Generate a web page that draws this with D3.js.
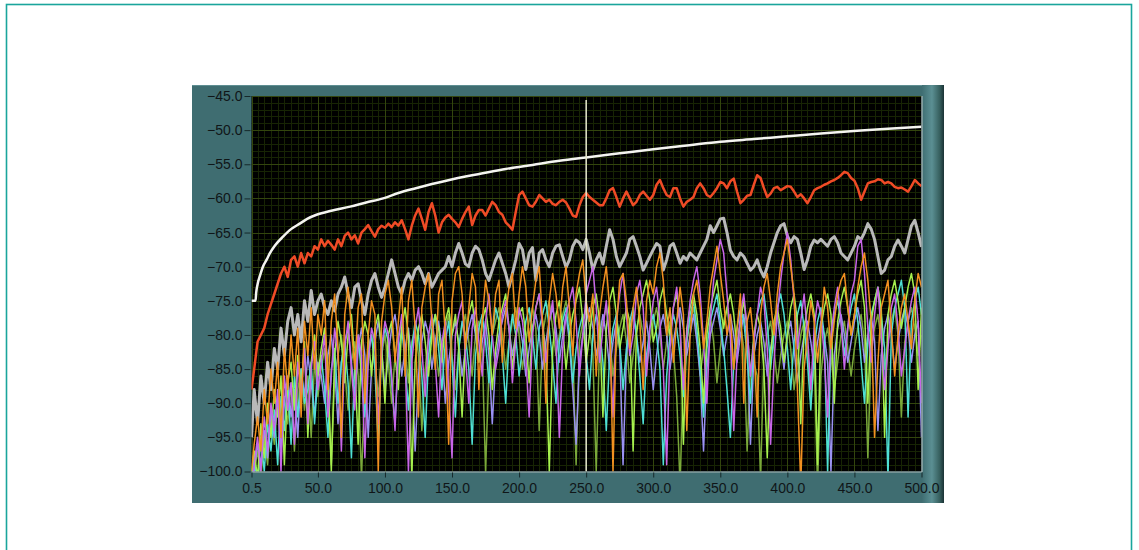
<!DOCTYPE html>
<html>
<head>
<meta charset="utf-8">
<script src="https://cdn.jsdelivr.net/npm/d3@7/dist/d3.min.js"></script>
<style>
  html, body { margin: 0; padding: 0; background: #ffffff; }
  svg { display: block; }
  .axis text { font-family: "Liberation Sans", Arial, sans-serif; font-size: 14px; fill: #101618; }
  .axis line { stroke: #16282a; }
  .axis path { display: none; }
</style>
</head>
<body>
<svg id="chart" width="1139" height="550"></svg>
<script>
// Spectrum bins (Hz) shared by the sampled traces
const freqs = [0.5,2.5,5,7.5,10,12.5,15,17.5,20,22.5,25,27.5,30,32.5,35,37.5,40,42.5,45,47.5,50,
  52.5,55,57.5,60,62.5,65,67.5,70,72.5,75,77.5,80,82.5,85,87.5,90,92.5,95,97.5,100,
  102.5,105,107.5,110,112.5,115,117.5,120,122.5,125,127.5,130,132.5,135,137.5,140,142.5,145,147.5,150,
  152.5,155,157.5,160,162.5,165,167.5,170,172.5,175,177.5,180,182.5,185,187.5,190,192.5,195,197.5,200,
  202.5,205,207.5,210,212.5,215,217.5,220,222.5,225,227.5,230,232.5,235,237.5,240,242.5,245,247.5,250,
  252.5,255,257.5,260,262.5,265,267.5,270,272.5,275,277.5,280,282.5,285,287.5,290,292.5,295,297.5,300,
  302.5,305,307.5,310,312.5,315,317.5,320,322.5,325,327.5,330,332.5,335,337.5,340,342.5,345,347.5,350,
  352.5,355,357.5,360,362.5,365,367.5,370,372.5,375,377.5,380,382.5,385,387.5,390,392.5,395,397.5,400,
  402.5,405,407.5,410,412.5,415,417.5,420,422.5,425,427.5,430,432.5,435,437.5,440,442.5,445,447.5,450,
  452.5,455,457.5,460,462.5,465,467.5,470,472.5,475,477.5,480,482.5,485,487.5,490,492.5,495,497.5,500];

// Limit curve (smooth), its own frequency points
const limitFreqs = [0.5,2,3.5,4,5,7,9,12,14,18,24,30,36.5,42,49,60,74,86,98.6,110,123,135,148,160,171,190,210,230,250,275,300,327,350,375,400,425,452,475,500];
const limitDb    = [-75,-75,-75,-73.8,-72.6,-71.2,-70.0,-68.9,-68.1,-66.9,-65.6,-64.5,-63.7,-63.0,-62.4,-61.8,-61.2,-60.6,-60.0,-59.2,-58.5,-57.9,-57.3,-56.8,-56.4,-55.7,-55.1,-54.5,-54.0,-53.4,-52.8,-52.2,-51.7,-51.3,-50.9,-50.5,-50.1,-49.8,-49.5];

// Average spectrum (red)
const avgDb = [-88,-85,-81,-80,-79,-77,-75.5,-74,-72.5,-71,-70,-71.5,-69,-68.5,-70,-68,-69.5,-68,-68.5,-67,-67.5,
  -66,-67,-66.2,-66.8,-67.5,-66,-67,-65.5,-65,-66,-65.4,-66.6,-65,-64.5,-63.9,-64.8,-65.6,-64.5,-64,-64.3,
  -63.7,-64.2,-63.5,-64,-63.2,-64.5,-66,-64,-62.5,-61.5,-63,-64.6,-62,-60.7,-62.5,-65,-63.5,-62.8,-62.4,-63,
  -63.5,-64.2,-63,-62,-61.2,-63.9,-62.5,-61.7,-61.7,-62.5,-61.5,-60.5,-61,-62,-62.4,-63.5,-64,-64.6,-62,-59.5,
  -59.0,-60,-61,-61.2,-60.5,-59.5,-60,-60.5,-60.2,-60.8,-61,-60.5,-60.2,-60.6,-61.5,-62.5,-62.7,-61,-59.8,-59.2,
  -59.8,-60.2,-60.6,-61,-61,-60,-58.8,-58.5,-59.8,-61.2,-60,-59,-60,-61,-60.5,-59.5,-59,-59.6,-60.2,-59.5,
  -58,-57.3,-58.5,-59.5,-59.8,-58.5,-58.5,-60,-61.2,-60.5,-60.2,-59.8,-58.5,-57.8,-58.5,-59.5,-59.8,-59.2,-58.5,-57.6,
  -57.8,-58.5,-57.5,-57.1,-59,-60.7,-60.2,-59.6,-59.5,-58,-56.6,-57,-58.5,-59.8,-59.3,-58.5,-58.3,-58.8,-58.5,-58.2,
  -58.3,-59,-59.8,-59.4,-60,-60.7,-59.8,-58.8,-58.5,-58.3,-58,-57.8,-57.5,-57.3,-57,-56.6,-56.1,-56.3,-57,-57.4,
  -58.5,-60.2,-59,-57.8,-57.6,-57.5,-57.2,-57.3,-57.8,-57.6,-57.8,-58.3,-58.5,-58.4,-58.7,-59,-58.2,-57.3,-57.8,-58.2];

// Peak-hold spectrum (gray)
const peakDb = [-95,-88,-93,-86,-90,-84,-88,-82,-85,-79,-83,-78,-76,-80,-77,-81,-75,-78,-73.5,-77,-75,
  -74,-76,-77,-75,-76.5,-74,-73,-71.5,-74,-76,-73,-72.5,-75,-77,-74,-72,-71,-73,-74.5,-73,
  -71,-69,-71,-73,-74,-72,-71,-72,-70.5,-70,-71,-72.5,-71,-73,-72,-71,-70.5,-70,-68.5,-70,
  -68,-66.6,-68,-69.6,-70,-68,-67,-67.5,-69,-71,-72,-70.5,-69,-68,-69.5,-71,-73,-71,-69,-66.6,
  -67.5,-70.4,-68,-67.2,-72,-68,-67.5,-69,-70,-68,-67,-66.8,-68.5,-70.1,-69,-67,-66.1,-66.5,-67.5,-66,
  -68,-70.5,-69,-68,-69.6,-67,-64.6,-66,-68.5,-70,-69,-68,-66,-65.6,-67,-68.5,-70.5,-69.5,-68.5,-67.5,
  -66.6,-67,-70.5,-69,-67,-66.6,-68,-69.5,-68.5,-69,-68,-68.5,-69,-68,-67,-66,-64,-65,-64,-63,
  -62.9,-65,-67.6,-68.5,-69,-68,-68.5,-69.5,-70.5,-70,-69,-70.5,-71.5,-70,-68,-66.5,-65,-64,-63.7,-65.5,
  -66.5,-65.6,-66,-68,-70.4,-69,-67,-66.1,-66.5,-66,-66.5,-67,-66,-65.6,-66.5,-68,-68.5,-69,-68,-67,
  -65.6,-66,-65,-63.7,-64.5,-66,-68.5,-71,-70.5,-69,-68.5,-67,-66.1,-67,-68,-66,-64,-63.2,-65,-67.1];

// Individual channel spectra
const chOrange = [-100,-96,-92,-97,-88,-93,-85,-90,-84,-95,-82,-88,-80,-86,-79,-92,-78,-83,-76,-85,-77,
  -80,-75,-88,-78,-74,-82,-95,-77,-73,-79,-85,-76,-74,-90,-80,-75,-77,-100,-78,-74,
  -72,-76,-84,-78,-73,-86,-75,-72,-79,-92,-76,-73,-71,-78,-85,-74,-72,-80,-96,-75,
  -71,-70,-74,-82,-76,-71,-73,-88,-78,-72,-75,-80,-74,-72,-84,-77,-73,-71,-79,-74,
  -70,-73,-81,-76,-72,-70,-78,-90,-75,-71,-74,-79,-73,-70,-76,-83,-74,-71,-69,-75,
  -78,-74,-86,-77,-73,-70,-76,-100,-79,-72,-71,-75,-82,-76,-73,-78,-88,-75,-72,-74,
  -70,-68,-72,-80,-76,-84,-78,-73,-77,-94,-80,-74,-72,-76,-82,-78,-73,-70,-67,-71,
  -75,-80,-77,-85,-79,-74,-90,-78,-76,-81,-92,-77,-73,-71,-75,-80,-74,-70,-68,-66,
  -70,-74,-88,-102,-85,-80,-75,-78,-84,-79,-73,-76,-82,-78,-74,-72,-71,-76,-80,-77,
  -73,-70,-68,-72,-78,-95,-84,-76,-74,-72,-79,-86,-80,-76,-74,-78,-82,-75,-71,-73];

const chViolet = [-102,-99,-95,-100,-92,-97,-90,-94,-88,-100,-86,-91,-87,-96,-84,-89,-82,-93,-85,-81,-88,
  -84,-80,-92,-86,-79,-83,-97,-82,-78,-85,-91,-80,-83,-98,-84,-79,-81,-93,-82,-78,
  -80,-86,-94,-81,-77,-83,-100,-84,-79,-76,-82,-89,-80,-77,-84,-92,-81,-78,-88,-98,
  -80,-77,-75,-83,-90,-79,-76,-81,-86,-78,-74,-80,-85,-82,-77,-75,-79,-87,-81,-76,
  -78,-83,-92,-80,-76,-74,-79,-84,-78,-75,-81,-95,-82,-77,-75,-73,-78,-86,-80,-74,
  -72,-70,-76,-84,-79,-75,-81,-92,-78,-74,-71,-77,-83,-80,-74,-72,-76,-86,-79,-75,
  -73,-78,-85,-99,-82,-76,-73,-79,-88,-80,-75,-72,-70,-74,-81,-90,-78,-72,-69,-66,
  -68,-74,-80,-94,-83,-77,-74,-79,-86,-81,-77,-73,-75,-82,-96,-84,-77,-72,-68,-65,
  -69,-75,-82,-78,-74,-80,-88,-79,-75,-77,-83,-92,-80,-76,-73,-78,-85,-79,-74,-72,
  -67,-66,-71,-79,-84,-77,-73,-80,-88,-82,-76,-74,-79,-86,-82,-78,-75,-73,-78,-90];

const chLime = [-100,-97,-101,-93,-98,-90,-95,-88,-92,-86,-99,-87,-84,-91,-83,-88,-81,-95,-84,-80,-86,
  -82,-79,-85,-100,-83,-78,-81,-87,-80,-77,-84,-96,-81,-78,-80,-86,-79,-77,-82,-90,
  -80,-78,-83,-88,-79,-76,-80,-101,-84,-79,-77,-81,-86,-80,-77,-79,-84,-78,-76,-80,
  -77,-82,-92,-81,-77,-75,-79,-84,-78,-76,-80,-88,-82,-78,-76,-74,-79,-85,-80,-77,
  -76,-80,-87,-79,-76,-74,-78,-83,-100,-82,-77,-75,-79,-85,-80,-77,-75,-73,-78,-84,
  -80,-76,-74,-78,-92,-79,-75,-73,-77,-82,-79,-76,-78,-97,-80,-76,-74,-72,-75,-81,
  -79,-75,-73,-77,-80,-76,-74,-78,-96,-79,-76,-74,-77,-82,-90,-80,-76,-74,-72,-76,
  -79,-76,-74,-77,-82,-78,-75,-79,-86,-80,-77,-79,-85,-98,-83,-78,-76,-79,-84,-80,
  -76,-74,-78,-93,-79,-76,-74,-77,-99,-79,-76,-74,-77,-90,-78,-75,-73,-76,-80,-77,
  -74,-72,-76,-90,-78,-75,-73,-76,-95,-77,-74,-72,-75,-79,-76,-73,-71,-74,-88,-76];

const chCyan = [-101,-98,-102,-95,-100,-93,-97,-91,-99,-89,-94,-87,-96,-86,-92,-85,-90,-88,-84,-93,-86,
  -83,-88,-95,-85,-82,-90,-84,-81,-87,-98,-84,-80,-86,-92,-83,-80,-85,-96,-82,-79,
  -81,-87,-93,-83,-79,-84,-91,-82,-78,-80,-86,-95,-83,-79,-77,-82,-88,-81,-78,-84,
  -92,-82,-78,-80,-85,-96,-83,-79,-77,-81,-87,-80,-76,-78,-83,-90,-81,-77,-80,-86,
  -82,-78,-76,-80,-85,-79,-77,-75,-79,-84,-90,-81,-78,-76,-80,-87,-82,-79,-77,-83,
  -88,-80,-77,-79,-84,-94,-83,-79,-77,-81,-88,-82,-78,-76,-80,-86,-93,-83,-79,-77,
  -80,-85,-99,-86,-80,-77,-79,-83,-89,-81,-77,-75,-79,-85,-92,-82,-78,-76,-74,-78,
  -82,-88,-95,-84,-79,-76,-78,-83,-90,-81,-77,-75,-74,-78,-85,-80,-76,-74,-77,-82,
  -88,-81,-77,-75,-79,-84,-91,-82,-78,-76,-80,-100,-81,-77,-75,-78,-83,-79,-76,-74,
  -78,-84,-90,-81,-77,-75,-73,-77,-82,-101,-80,-76,-74,-72,-76,-92,-78,-75,-73,-77];

const chOlive = [-103,-100,-97,-101,-95,-99,-92,-96,-90,-94,-89,-93,-87,-97,-88,-85,-91,-86,-95,-84,-89,
  -85,-82,-88,-99,-86,-83,-80,-85,-91,-84,-81,-86,-101,-87,-82,-80,-84,-89,-83,-80,
  -84,-90,-83,-80,-78,-82,-87,-81,-79,-83,-94,-85,-80,-78,-81,-86,-82,-79,-77,-83,
  -88,-82,-79,-77,-81,-86,-80,-78,-82,-100,-85,-80,-78,-76,-80,-85,-81,-78,-76,-80,
  -85,-81,-78,-76,-79,-94,-80,-77,-75,-79,-83,-80,-77,-75,-78,-82,-99,-81,-78,-76,
  -79,-83,-100,-81,-78,-76,-80,-86,-82,-79,-77,-81,-87,-83,-79,-77,-80,-85,-81,-78,
  -76,-80,-85,-81,-78,-82,-89,-102,-86,-81,-78,-76,-80,-86,-82,-79,-77,-81,-87,-82,
  -78,-76,-80,-85,-81,-78,-82,-97,-85,-84,-86,-101,-83,-80,-78,-82,-87,-83,-80,-78,
  -82,-88,-84,-80,-78,-82,-90,-84,-102,-86,-81,-79,-83,-88,-84,-80,-78,-82,-86,-82,
  -79,-77,-81,-98,-82,-79,-77,-81,-85,-81,-78,-76,-80,-92,-81,-78,-76,-79,-83,-80];

const chLavender = [-102,-100,-96,-99,-94,-98,-91,-95,-89,-97,-90,-86,-92,-88,-95,-85,-89,-83,-87,-92,-84,
  -86,-90,-83,-80,-85,-93,-84,-81,-79,-84,-89,-82,-79,-83,-95,-85,-81,-78,-82,-88,
  -83,-79,-77,-81,-86,-82,-79,-84,-97,-86,-81,-78,-80,-85,-81,-78,-82,-90,-84,-80,
  -78,-81,-86,-82,-79,-77,-80,-84,-81,-78,-83,-93,-84,-80,-78,-76,-79,-83,-80,-78,
  -81,-86,-82,-79,-77,-80,-85,-81,-78,-76,-79,-84,-80,-77,-81,-88,-96,-84,-80,-78,
  -76,-79,-83,-80,-77,-80,-85,-81,-78,-82,-99,-83,-79,-77,-80,-84,-81,-78,-82,-88,
  -83,-79,-77,-80,-85,-81,-78,-76,-79,-83,-80,-77,-81,-86,-97,-85,-80,-78,-76,-79,
  -83,-80,-77,-80,-84,-80,-77,-81,-96,-83,-80,-78,-81,-86,-82,-79,-77,-81,-85,-80,
  -78,-82,-87,-83,-80,-78,-81,-85,-81,-78,-80,-84,-100,-83,-79,-77,-80,-84,-81,-78,
  -76,-79,-84,-80,-77,-81,-94,-83,-79,-77,-80,-85,-81,-78,-76,-79,-84,-80,-78,-95];

// Axis ticks and the cursor position
const xTicks = [0.5, 50, 100, 150, 200, 250, 300, 350, 400, 450, 500];
const yTicks = [-45, -50, -55, -60, -65, -70, -75, -80, -85, -90, -95, -100];
const cursorFreq = 250;

const svg = d3.select("#chart");

// Page frame
svg.append("rect").attr("x", 6.5).attr("y", 4.5).attr("width", 1125).attr("height", 570)
  .attr("fill", "none").attr("stroke", "#1aa59c").attr("stroke-width", 1.6);

const defs = svg.append("defs");
const bevel = defs.append("linearGradient").attr("id", "bevel").attr("x1", "0").attr("x2", "1").attr("y1", "0").attr("y2", "0");
bevel.append("stop").attr("offset", "0").attr("stop-color", "#3f6e72");
bevel.append("stop").attr("offset", "0.45").attr("stop-color", "#5b8f93");
bevel.append("stop").attr("offset", "0.8").attr("stop-color", "#37605f");
bevel.append("stop").attr("offset", "1").attr("stop-color", "#1a3234");

// Graph panel
const panel = { x: 192, y: 85, w: 752, h: 418 };
svg.append("rect").attr("x", panel.x).attr("y", panel.y).attr("width", panel.w).attr("height", panel.h)
  .attr("fill", "#3f6d71");
svg.append("rect").attr("x", 922).attr("y", panel.y).attr("width", panel.x + panel.w - 922).attr("height", panel.h)
  .attr("fill", "url(#bevel)");
svg.append("line").attr("x1", panel.x).attr("x2", 922).attr("y1", panel.y + 0.5).attr("y2", panel.y + 0.5)
  .attr("stroke", "#5e8e92").attr("stroke-width", 1);

// Plot area
const plot = { left: 251.5, right: 921.5, top: 96, bottom: 471.5 };
const x = d3.scaleLinear().domain([0.5, 500]).range([plot.left, plot.right]);
const y = d3.scaleLinear().domain([-45, -100]).range([plot.top, plot.bottom]);

svg.append("rect").attr("x", plot.left).attr("y", plot.top)
  .attr("width", plot.right - plot.left).attr("height", plot.bottom - plot.top).attr("fill", "#000000");

defs.append("clipPath").attr("id", "plotClip").append("rect")
  .attr("x", plot.left).attr("y", plot.top)
  .attr("width", plot.right - plot.left).attr("height", plot.bottom - plot.top);

// Grid: minor every 5 Hz / 1 dB, major at the labelled ticks
const grid = svg.append("g").attr("clip-path", "url(#plotClip)");
const minorX = d3.range(5, 500, 5);
const minorY = d3.range(-46, -100, -1);
grid.selectAll(".mx").data(minorX).join("line")
  .attr("x1", d => Math.round(x(d)) + 0.5).attr("x2", d => Math.round(x(d)) + 0.5)
  .attr("y1", plot.top).attr("y2", plot.bottom).attr("stroke", "#172404").attr("stroke-width", 1);
grid.selectAll(".my").data(minorY).join("line")
  .attr("y1", d => Math.round(y(d)) + 0.5).attr("y2", d => Math.round(y(d)) + 0.5)
  .attr("x1", plot.left).attr("x2", plot.right).attr("stroke", "#172404").attr("stroke-width", 1);
grid.selectAll(".Mx").data(xTicks).join("line")
  .attr("x1", d => Math.round(x(d)) + 0.5).attr("x2", d => Math.round(x(d)) + 0.5)
  .attr("y1", plot.top).attr("y2", plot.bottom).attr("stroke", "#33450e").attr("stroke-width", 1);
grid.selectAll(".My").data(yTicks).join("line")
  .attr("y1", d => Math.round(y(d)) + 0.5).attr("y2", d => Math.round(y(d)) + 0.5)
  .attr("x1", plot.left).attr("x2", plot.right).attr("stroke", "#33450e").attr("stroke-width", 1);

// Traces
const traces = svg.append("g").attr("clip-path", "url(#plotClip)");
const line = d3.line().x(d => x(d[0])).y(d => y(d[1]));
const zipBins = vals => freqs.map((f, i) => [f, vals[i]]);

traces.append("path").datum(zipBins(peakDb)).attr("d", line)
  .attr("fill", "none").attr("stroke", "#b9b9b9").attr("stroke-width", 3).attr("stroke-linejoin", "round");

const channels = [
  { vals: chOlive, color: "#7aa83a" },
  { vals: chLavender, color: "#9a92f2" },
  { vals: chCyan, color: "#4fe0d4" },
  { vals: chLime, color: "#a6f04e" },
  { vals: chViolet, color: "#c866e8" },
  { vals: chOrange, color: "#f29020" }
];
channels.forEach(c => {
  traces.append("path").datum(zipBins(c.vals)).attr("d", line)
    .attr("fill", "none").attr("stroke", c.color).attr("stroke-width", 1.5).attr("stroke-linejoin", "round");
});

traces.append("path").datum(zipBins(avgDb)).attr("d", line)
  .attr("fill", "none").attr("stroke", "#f04b26").attr("stroke-width", 2.5).attr("stroke-linejoin", "round");

traces.append("path").datum(limitFreqs.map((f, i) => [f, limitDb[i]]))
  .attr("d", line.curve(d3.curveMonotoneX))
  .attr("fill", "none").attr("stroke", "#f4f4f0").attr("stroke-width", 2.5);

// Cursor
traces.append("line").attr("x1", x(cursorFreq)).attr("x2", x(cursorFreq))
  .attr("y1", plot.top + 4).attr("y2", plot.bottom)
  .attr("stroke", "#e8e8d0").attr("stroke-width", 1.5);

// Plot border (inset look)
svg.append("line").attr("x1", plot.left).attr("x2", plot.right + 0.5).attr("y1", plot.bottom + 0.5).attr("y2", plot.bottom + 0.5)
  .attr("stroke", "#aebcbc").attr("stroke-width", 1.2);
svg.append("line").attr("x1", plot.right + 0.5).attr("x2", plot.right + 0.5).attr("y1", plot.top).attr("y2", plot.bottom + 0.5)
  .attr("stroke", "#aebcbc").attr("stroke-width", 1.2);

// Axes
const fmt = d3.format(".1f");
svg.append("g").attr("class", "axis").attr("transform", `translate(${plot.left - 1},0)`)
  .call(d3.axisLeft(y).tickValues(yTicks).tickFormat(fmt).tickSize(6).tickPadding(2));
svg.append("g").attr("class", "axis").attr("transform", `translate(0,${plot.bottom + 1})`)
  .call(d3.axisBottom(x).tickValues(xTicks).tickFormat(d => d === 0.5 ? "0.5" : fmt(d)).tickSize(5).tickPadding(6));
</script>
</body>
</html>
